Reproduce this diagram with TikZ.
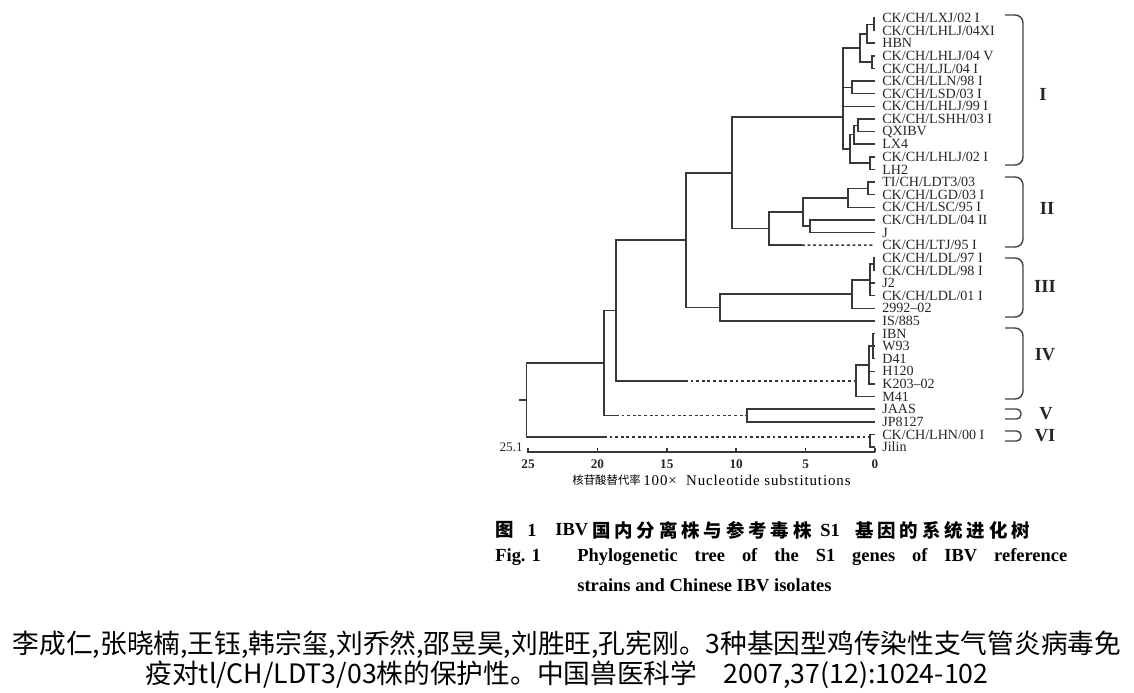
\documentclass[tikz,border=0pt]{standalone}
\usepackage{fontspec}
\setmainfont{Liberation Serif}
\newfontfamily\cjk{Noto Sans CJK SC}
\newfontfamily\cjkcap[LetterSpace=21]{Noto Sans CJK SC}
\newfontfamily\axfont[LetterSpace=6]{Liberation Serif}
\usetikzlibrary{positioning}

\begin{document}
\begin{tikzpicture}[x=0.02cm,y=-0.02cm,
  branch/.style={line width=0.85pt,draw=black!78},
  dashbranch/.style={branch,dash pattern=on 1.6pt off 1.6pt},
  leaf/.style={anchor=west,inner sep=0pt,text=black!85,font=\fontsize{8}{8}\selectfont},
  clade/.style={inner sep=0pt,text=black!85,font=\fontsize{10.5}{10.5}\selectfont\bfseries},
  brace/.style={line width=0.8pt,draw=black!75,rounded corners=4.5pt},
  tick/.style={inner sep=0pt,text=black!85,font=\fontsize{7.5}{7.5}\selectfont\bfseries},
  capzh/.style={anchor=west,inner sep=0pt,font=\cjkcap\bfseries\fontsize{10.5}{10.5}\selectfont},
  capen/.style={anchor=west,inner sep=0pt,font=\fontsize{10.5}{10.5}\selectfont\bfseries},
  cite/.style={inner sep=0pt,font=\cjk\fontsize{15.2}{15.2}\selectfont}]
\useasboundingbox (0,0) rectangle (1134,693);

% leaves
\foreach \name [count=\i] in {CK/CH/LXJ/02 I,CK/CH/LHLJ/04XI,HBN,CK/CH/LHLJ/04 V,
  CK/CH/LJL/04 I,CK/CH/LLN/98 I,CK/CH/LSD/03 I,CK/CH/LHLJ/99 I,CK/CH/LSHH/03 I,
  QXIBV,LX4,CK/CH/LHLJ/02 I,LH2,TI/CH/LDT3/03,CK/CH/LGD/03 I,CK/CH/LSC/95 I,
  CK/CH/LDL/04 II,J,CK/CH/LTJ/95 I,CK/CH/LDL/97 I,CK/CH/LDL/98 I,J2,
  CK/CH/LDL/01 I,2992--02,IS/885,IBN,W93,D41,H120,K203--02,M41,JAAS,JP8127,
  CK/CH/LHN/00 I,Jilin}
{
  \coordinate (t\i) at (875,{18+(\i-1)*12.62});
  \node[leaf] (l\i) at (882,{18+(\i-1)*12.62}) {\name};
}

% inner nodes
\coordinate (a1) at (874,24.3);
\coordinate (a2) at (867,33.8);
\coordinate (a3) at (872,62.2);
\coordinate (a4) at (860,48);
\coordinate (a5) at (852,87.4);
\coordinate (a6) at (858,125.3);
\coordinate (a7) at (854,134.7);
\coordinate (a8) at (870,163.1);
\coordinate (a9) at (850,148.9);
\coordinate (cI) at (843,117);
\coordinate (b1) at (868,188.3);
\coordinate (b2) at (848,197.8);
\coordinate (b3) at (810,226.2);
\coordinate (b4) at (803,212);
\coordinate (s19) at (802,245.1);
\coordinate (cII) at (769,228.6);
\coordinate (n1) at (732,172.8);
\coordinate (c1) at (874,264.1);
\coordinate (c2) at (870,280);
\coordinate (c3) at (852,294.1);
\coordinate (cIII) at (720,307.5);
\coordinate (n2) at (686,240.1);
\coordinate (d1) at (873,346.1);
\coordinate (d2) at (869,365);
\coordinate (cIV) at (856,380.8);
\coordinate (s4) at (685,380.8);
\coordinate (n3) at (616,310.5);
\coordinate (cV) at (747,415.5);
\coordinate (s5) at (616,415.5);
\coordinate (n4) at (604,363);
\coordinate (cVI) at (870,437);
\coordinate (s6) at (604,437);
\coordinate (root) at (526.6,400);
\coordinate (stem) at (519,400);

\foreach \p/\c in {a1/t1,a1/t2,a2/a1,a2/t3,a3/t4,a3/t5,a4/a2,a4/a3,a5/t6,a5/t7,
  a6/t9,a6/t10,a7/a6,a7/t11,a8/t12,a8/t13,a9/a7,a9/a8,cI/a4,cI/a5,cI/t8,cI/a9,
  b1/t14,b1/t15,b2/b1,b2/t16,b3/t17,b3/t18,b4/b2,b4/b3,cII/b4,cII/s19,
  n1/cI,n1/cII,c1/t20,c1/t21,c2/c1,c2/t22,c2/t23,c3/c2,c3/t24,cIII/c3,cIII/t25,
  n2/n1,n2/cIII,d1/t26,d1/t27,d1/t28,d2/d1,d2/t29,d2/t30,cIV/d2,cIV/t31,
  n3/n2,n3/s4,cV/t32,cV/t33,n4/n3,n4/s5,cVI/t34,cVI/t35,root/n4,root/s6}
  \draw[branch] (\p) |- (\c);
\draw[branch] (stem) -- (root);
\draw[dashbranch] (s19) -- (t19);
\draw[dashbranch] (s4) -- (cIV);
\draw[dashbranch] (s5) -- (cV);
\draw[dashbranch] (s6) -- (cVI);

% scale
\coordinate (ax0) at (875,452);
\coordinate (ax1) at (526.6,452);
\draw[branch] (ax1) -- (ax0);
\foreach \v in {0,5,...,25}{
  \draw[branch] ({875-13.88*\v},452) -- ++(0,-4);
  \node[tick] (k\v) at ({875-13.88*\v},464) {\v};
}
\node[tick,anchor=east,font=\fontsize{7.5}{7.5}\selectfont] (top) at (523,447) {25.1};
\node[anchor=west,inner sep=0pt,font=\cjk\fontsize{6.5}{6.5}\selectfont] (axzh) at (572,480) {核苷酸替代率};
\node[anchor=west,inner sep=0pt,font=\axfont\fontsize{8.5}{8.5}\selectfont] (axen) at (643,480) {100×\ \ Nucleotide substitutions};

% groups
\draw[brace] (1005,15) -- (1023,15) -- (1023,165) -- (1005,165);
\draw[brace] (1005,177) -- (1023,177) -- (1023,247) -- (1005,247);
\draw[brace] (1005,258) -- (1023,258) -- (1023,317) -- (1005,317);
\draw[brace] (1005,328) -- (1023,328) -- (1023,399) -- (1005,399);
\draw[brace,rounded corners=2.5pt] (1005,409) -- (1021,409) -- (1021,419) -- (1005,419);
\draw[brace,rounded corners=2.5pt] (1005,431) -- (1021,431) -- (1021,441) -- (1005,441);
\node[clade] (g1) at (1043,94) {I};
\node[clade] (g2) at (1047,208) {II};
\node[clade] (g3) at (1045,286) {III};
\node[clade] (g4) at (1045,355) {IV};
\node[clade] (g5) at (1046,414) {V};
\node[clade] (g6) at (1045,436) {VI};

% caption
\node[capzh] (tzh1) at (495,530) {图};
\node[capen] (tzh2) at (527,530) {1};
\node[capen] (tzh3) at (555,530) {IBV};
\node[capzh] (tzh4) at (592,530) {国内分离株与参考毒株};
\node[capen] (tzh5) at (820,530) {S1};
\node[capzh] (tzh6) at (855,530) {基因的系统进化树};
\node[capen] (ten1) at (495,557) {Fig. 1};
\node[capen] (ten2) at (577,557) {\makebox[9.8cm][s]{Phylogenetic tree of the S1 genes of IBV reference}};
\node[capen] (ten3) at (577,585) {strains and Chinese IBV isolates};

% source
\node[cite] (src1) at (567,645) {李成仁,张晓楠,王钰,韩宗玺,刘乔然,邵昱昊,刘胜旺,孔宪刚。3种基因型鸡传染性支气管炎病毒免};
\node[cite] (src2) at (567,675) {疫对tl/CH/LDT3/03株的保护性。中国兽医科学　2007,37(12):1024-102};
\end{tikzpicture}
\end{document}
